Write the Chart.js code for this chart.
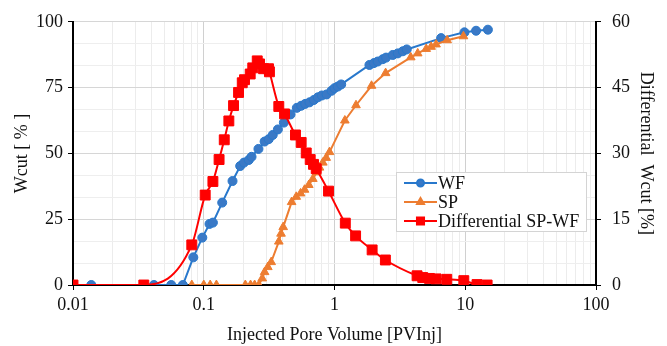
<!DOCTYPE html>
<html>
<head>
<meta charset="utf-8">
<script src="https://cdn.jsdelivr.net/npm/chart.js@4.4.1/dist/chart.umd.min.js"></script>
<style>
  html, body { margin: 0; padding: 0; background: #fff; }
  #wrap { width: 667px; height: 346px; }
</style>
</head>
<body>
<div id="wrap"><canvas id="chart" width="667" height="346"></canvas></div>
<script>
// Données
const wfPV = [0.0138, 0.0416, 0.0564, 0.0692, 0.0832, 0.0975, 0.1107, 0.1175, 0.1384, 0.166,
  0.190, 0.203, 0.221, 0.232, 0.262, 0.292, 0.314, 0.337, 0.369, 0.410,
  0.461, 0.515, 0.556, 0.597, 0.644, 0.695, 0.746, 0.80, 0.87, 0.95,
  1.0, 1.06, 1.125, 1.85, 2.0, 2.14, 2.34, 2.48, 2.79, 3.05,
  3.33, 3.57, 6.54, 9.86, 12.1, 14.9];
const wfWcut = [0, 0, 0, 0, 10.5, 18.0, 23.2, 23.7, 31.3, 39.5,
  45.2, 46.5, 47.5, 48.7, 51.7, 54.5, 55.4, 57.0, 59.1, 61.7,
  64.8, 67.3, 68.1, 68.8, 69.4, 70.3, 71.3, 72.0, 72.4, 73.8,
  74.8, 75.4, 76.2, 83.6, 84.3, 84.9, 85.8, 86.4, 87.4, 88.0,
  88.8, 89.5, 93.8, 96.0, 96.6, 97.0];

const spPV = [0.081, 0.1, 0.112, 0.125, 0.208, 0.228, 0.245, 0.264, 0.28, 0.292,
  0.309, 0.328, 0.375, 0.39, 0.405, 0.47, 0.51, 0.55, 0.59, 0.636,
  0.683, 0.732, 0.768, 0.814, 0.864, 0.916, 1.2, 1.46, 1.92, 2.46,
  3.83, 4.33, 5.03, 5.48, 5.98, 7.27, 9.69];
const spWcut = [0, 0, 0, 0, 0, 0, 0, 0, 2.5, 4.9,
  6.8, 8.7, 16.5, 19.5, 22.0, 31.5, 33.5, 34.8, 36.2, 38.0,
  40.3, 42.8, 44.6, 46.5, 48.3, 50.5, 62.5, 68.3, 75.7, 80.5,
  86.5, 88.0, 89.7, 90.5, 91.4, 93.0, 94.5];

const diffPV = [0.01, 0.0348, 0.081, 0.1026, 0.1175, 0.131, 0.1435, 0.1556, 0.169, 0.1846,
  0.197, 0.205, 0.2266, 0.237, 0.2565, 0.267, 0.2866, 0.3128, 0.318, 0.375,
  0.415, 0.503, 0.556, 0.608, 0.652, 0.691, 0.725, 0.9, 1.21, 1.45,
  1.94, 2.45, 4.28, 4.73, 5.32, 5.98, 7.22, 9.75, 12.3, 14.7];
const diffWcut = [0, 0, 9.15, 20.5, 23.6, 28.6, 33.1, 37.4, 40.9, 43.9,
  46.1, 46.8, 48.1, 49.5, 51.1, 50.4, 49.3, 49.3, 48.6, 40.7,
  39.0, 34.2, 32.5, 30.1, 28.6, 27.5, 26.5, 21.4, 14.1, 11.2,
  8.0, 5.7, 2.1, 1.7, 1.5, 1.4, 1.3, 1.0, 0.1, 0];

const xTicks = [0.01, 0.1, 1, 10, 100];
const xTickLabels = ['0.01', '0.1', '1', '10', '100'];
const leftTicks = [0, 25, 50, 75, 100];
const rightTicks = [0, 15, 30, 45, 60];

const serif = "'Liberation Serif', 'Times New Roman', serif";

function toPoints(xs, ys) {
  return xs.map((x, i) => ({ x: x, y: ys[i] }));
}

// Graduations log : 1..9 par décade
function buildXTicks() {
  const ticks = [];
  for (let i = 0; i < xTicks.length - 1; i++) {
    for (let k = 1; k < 10; k++) {
      ticks.push({ value: k * xTicks[i], major: k === 1, label: k === 1 ? xTickLabels[i] : '' });
    }
  }
  ticks.push({ value: xTicks[xTicks.length - 1], major: true, label: xTickLabels[xTickLabels.length - 1] });
  return ticks;
}

// Légende dessinée dans la zone du graphique
const legendBox = {
  id: 'legendBox',
  afterDatasetsDraw(chart) {
    const ctx = chart.ctx;
    ctx.save();
    ctx.fillStyle = '#fff';
    ctx.fillRect(396, 172, 191, 60);
    ctx.strokeStyle = '#d4d4d4';
    ctx.lineWidth = 1;
    ctx.strokeRect(396.5, 172.5, 190, 59);
    chart.data.datasets.forEach((ds, i) => {
      const y = 183 + i * 19;
      ctx.strokeStyle = ds.borderColor;
      ctx.lineWidth = 2;
      ctx.beginPath();
      ctx.moveTo(404, y);
      ctx.lineTo(437, y);
      ctx.stroke();
      ctx.fillStyle = ds.pointBackgroundColor;
      ctx.strokeStyle = ds.borderColor;
      Chart.helpers.drawPoint(ctx, {
        pointStyle: ds.pointStyle,
        radius: ds.legendRadius,
        borderWidth: 1,
        rotation: 0
      }, 420.5, y);
      ctx.fillStyle = '#111';
      ctx.font = '18px ' + serif;
      ctx.textBaseline = 'middle';
      ctx.textAlign = 'left';
      ctx.fillText(ds.label, 438, y + 1);
    });
    ctx.restore();
  }
};

const canvas = document.getElementById('chart');
new Chart(canvas, {
  type: 'line',
  data: {
    datasets: [
      {
        label: 'WF',
        data: toPoints(wfPV, wfWcut),
        yAxisID: 'y',
        borderColor: '#2878CC',
        backgroundColor: '#3A79C6',
        pointBackgroundColor: '#3A79C6',
        pointStyle: 'circle',
        pointRadius: 4.5,
        pointBorderWidth: 1,
        legendRadius: 3.5,
        borderWidth: 2,
        tension: 0,
        order: 3
      },
      {
        label: 'SP',
        data: toPoints(spPV, spWcut),
        yAxisID: 'y',
        borderColor: '#ED7D31',
        backgroundColor: '#ED7D31',
        pointBackgroundColor: '#ED7D31',
        pointStyle: 'triangle',
        pointRadius: 5,
        pointBorderWidth: 1,
        legendRadius: 4,
        borderWidth: 2,
        tension: 0,
        order: 2
      },
      {
        label: 'Differential SP-WF',
        data: toPoints(diffPV, diffWcut),
        yAxisID: 'y2',
        borderColor: '#FF0000',
        backgroundColor: '#FF0000',
        pointBackgroundColor: '#FF0000',
        pointStyle: 'rect',
        pointRadius: 7,
        pointBorderWidth: 1,
        legendRadius: 5,
        borderWidth: 2,
        cubicInterpolationMode: 'monotone',
        order: 1
      }
    ]
  },
  options: {
    responsive: false,
    animation: false,
    devicePixelRatio: 1,
    layout: { padding: { top: 16, left: 0, right: 0, bottom: 0 } },
    plugins: {
      legend: { display: false },
      tooltip: { enabled: false }
    },
    scales: {
      x: {
        type: 'logarithmic',
        min: 0.01,
        max: 100,
        afterBuildTicks: s => { s.ticks = buildXTicks(); },
        afterFit: s => { s.height = 61; },
        border: { color: '#000', width: 2 },
        grid: {
          color: c => (c.tick && c.tick.major) ? '#d0d0d0' : '#ececec',
          lineWidth: 1,
          tickLength: 5,
          tickColor: c => (c.tick && c.tick.major) ? '#000' : 'rgba(0,0,0,0)'
        },
        ticks: {
          autoSkip: false,
          maxRotation: 0,
          padding: 4,
          color: '#111',
          font: { family: serif, size: 18 },
          callback: (v, i, ticks) => ticks[i].label
        },
        title: {
          display: true,
          text: 'Injected Pore Volume [PVInj]',
          color: '#111',
          font: { family: serif, size: 18 },
          padding: { top: 0, bottom: 0 }
        }
      },
      y: {
        position: 'left',
        min: 0,
        max: 100,
        afterBuildTicks: s => { s.ticks = leftTicks.map(v => ({ value: v })); },
        afterFit: s => { s.width = 73; },
        border: { color: '#000', width: 2 },
        grid: { drawOnChartArea: false, tickLength: 5, tickColor: '#000' },
        ticks: {
          padding: 5,
          color: '#111',
          font: { family: serif, size: 18 }
        },
        title: {
          display: true,
          text: 'Wcut [ % ]',
          color: '#111',
          font: { family: serif, size: 18 },
          padding: { top: 11, bottom: 0 }
        }
      },
      y2: {
        position: 'right',
        min: 0,
        max: 60,
        afterBuildTicks: s => {
          const t = [];
          for (let v = 0; v <= 60; v += 5) t.push({ value: v });
          s.ticks = t;
        },
        afterFit: s => { s.width = 71; },
        border: { color: '#000', width: 2 },
        grid: {
          color: c => (c.tick && rightTicks.includes(c.tick.value)) ? '#d6d6d6' : '#eeeeee',
          lineWidth: 1,
          tickLength: 5,
          tickColor: c => (c.tick && rightTicks.includes(c.tick.value)) ? '#000' : 'rgba(0,0,0,0)'
        },
        ticks: {
          autoSkip: false,
          padding: 11,
          color: '#111',
          font: { family: serif, size: 18 },
          callback: v => rightTicks.includes(v) ? String(v) : ''
        },
        title: {
          display: true,
          text: 'Differential  Wcut [%]',
          color: '#111',
          font: { family: serif, size: 18 },
          padding: { top: 10, bottom: 0 }
        }
      }
    }
  },
  plugins: [legendBox]
});
</script>
</body>
</html>
